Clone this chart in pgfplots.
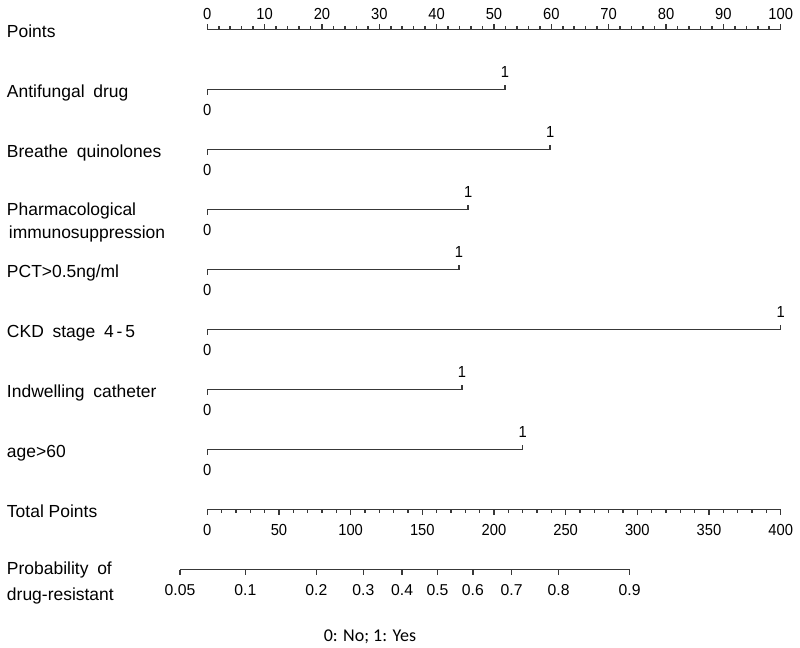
\documentclass[border=0pt]{standalone}
\usepackage{pgfplots}
\pgfplotsset{compat=1.18}
\usepackage{pgfplotstable}
\usepackage{fontspec}
\setmainfont{Liberation Sans}
\newfontfamily\tickfont{Liberation Sans}[FakeStretch=0.92]
\newfontfamily\calib{Carlito}
\definecolor{ln}{HTML}{383838}
\newcommand\lab{\fontsize{13.1pt}{15pt}\selectfont}
\newcommand\tk{\tickfont\fontsize{12pt}{14pt}\selectfont}
\newcommand\tkp{\fontsize{11.8pt}{14pt}\selectfont}
\pgfplotsset{nl/.style={draw=ln, line width=1.15pt, mark=none, solid}}

% points scale ticks (0-100): value, row position
\pgfplotstableread{
p r
0 29.5
2 29.5
4 29.5
6 29.5
8 29.5
10 29.5
12 29.5
14 29.5
16 29.5
18 29.5
20 29.5
22 29.5
24 29.5
26 29.5
28 29.5
30 29.5
32 29.5
34 29.5
36 29.5
38 29.5
40 29.5
42 29.5
44 29.5
46 29.5
48 29.5
50 29.5
52 29.5
54 29.5
56 29.5
58 29.5
60 29.5
62 29.5
64 29.5
66 29.5
68 29.5
70 29.5
72 29.5
74 29.5
76 29.5
78 29.5
80 29.5
82 29.5
84 29.5
86 29.5
88 29.5
90 29.5
92 29.5
94 29.5
96 29.5
98 29.5
100 29.5
}\pointsminor
\pgfplotstableread{
p r
0 29.5
10 29.5
20 29.5
30 29.5
40 29.5
50 29.5
60 29.5
70 29.5
80 29.5
90 29.5
100 29.5
}\pointsmajor
% total points ticks (0-400)
\pgfplotstableread{
t r
0 509.5
10 509.5
20 509.5
30 509.5
40 509.5
50 509.5
60 509.5
70 509.5
80 509.5
90 509.5
100 509.5
110 509.5
120 509.5
130 509.5
140 509.5
150 509.5
160 509.5
170 509.5
180 509.5
190 509.5
200 509.5
210 509.5
220 509.5
230 509.5
240 509.5
250 509.5
260 509.5
270 509.5
280 509.5
290 509.5
300 509.5
310 509.5
320 509.5
330 509.5
340 509.5
350 509.5
360 509.5
370 509.5
380 509.5
390 509.5
400 509.5
}\totalminor
\pgfplotstableread{
t r
0 509.5
50 509.5
100 509.5
150 509.5
200 509.5
250 509.5
300 509.5
350 509.5
400 509.5
}\totalmajor
% probability ticks: probability, position on total points scale
\pgfplotstableread{
p tp r
0.05 -19.0 569.5
0.1 26.6 569.5
0.2 76.1 569.5
0.3 108.9 569.5
0.4 135.9 569.5
0.5 160.6 569.5
0.6 185.3 569.5
0.7 212.3 569.5
0.8 245.1 569.5
0.9 294.6 569.5
}\probtab

\begin{document}
\begin{tikzpicture}[every node/.append style={inner sep=0pt, outer sep=0pt}]
\begin{axis}[
  scale only axis, width=600pt, height=485.25pt,
  xmin=-36.15, xmax=103.37, ymin=0, ymax=647, y dir=reverse,
  hide axis, clip=false]

% ---- Points scale
\addplot[nl] coordinates {(0,29.5) (100,29.5)};
\addplot[nl, quiver={u=0,v=-3.5}] table[x=p, y=r] {\pointsminor};
\addplot[nl, quiver={u=0,v=-6}] table[x=p, y=r] {\pointsmajor};
\node[anchor=base west, font=\lab] at (axis cs:-34.93,37) {Points};
\node[anchor=base, font=\tk] at (axis cs:0,19.3) {0};
\node[anchor=base, font=\tk] at (axis cs:10,19.3) {10};
\node[anchor=base, font=\tk] at (axis cs:20,19.3) {20};
\node[anchor=base, font=\tk] at (axis cs:30,19.3) {30};
\node[anchor=base, font=\tk] at (axis cs:40,19.3) {40};
\node[anchor=base, font=\tk] at (axis cs:50,19.3) {50};
\node[anchor=base, font=\tk] at (axis cs:60,19.3) {60};
\node[anchor=base, font=\tk] at (axis cs:70,19.3) {70};
\node[anchor=base, font=\tk] at (axis cs:80,19.3) {80};
\node[anchor=base, font=\tk] at (axis cs:90,19.3) {90};
\node[anchor=base, font=\tk] at (axis cs:100,19.3) {100};

% ---- Antifungal drug (1 = 51.9 points)
\addplot[nl] coordinates {(0,94.5) (0,89.5) (51.9,89.5) (51.9,84.5)};
\node[anchor=base west, font=\lab] at (axis cs:-34.93,97) {Antifungal\hspace{0.5em}drug};
\node[anchor=base, font=\tk] at (axis cs:51.9,77.5) {1};
\node[anchor=base, font=\tk] at (axis cs:0,115.5) {0};

% ---- Breathe quinolones (1 = 59.8)
\addplot[nl] coordinates {(0,154.5) (0,149.5) (59.8,149.5) (59.8,144.5)};
\node[anchor=base west, font=\lab] at (axis cs:-34.93,157) {Breathe\hspace{0.5em}quinolones};
\node[anchor=base, font=\tk] at (axis cs:59.8,137.5) {1};
\node[anchor=base, font=\tk] at (axis cs:0,175.5) {0};

% ---- Pharmacological immunosuppression (1 = 45.5)
\addplot[nl] coordinates {(0,214.5) (0,209.5) (45.5,209.5) (45.5,204.5)};
\node[anchor=base west, font=\lab] at (axis cs:-34.93,215) {Pharmacological};
\node[anchor=base west, font=\lab] at (axis cs:-34.6,238) {immunosuppression};
\node[anchor=base, font=\tk] at (axis cs:45.5,197.5) {1};
\node[anchor=base, font=\tk] at (axis cs:0,235.5) {0};

% ---- PCT>0.5ng/ml (1 = 43.9)
\addplot[nl] coordinates {(0,274.5) (0,269.5) (43.9,269.5) (43.9,264.5)};
\node[anchor=base west, font=\lab] at (axis cs:-34.93,277) {PCT>0.5ng/ml};
\node[anchor=base, font=\tk] at (axis cs:43.9,257.5) {1};
\node[anchor=base, font=\tk] at (axis cs:0,295.5) {0};

% ---- CKD stage 4-5 (1 = 100)
\addplot[nl] coordinates {(0,334.5) (0,329.5) (100,329.5) (100,324.5)};
\node[anchor=base west, font=\lab] at (axis cs:-34.93,337) {CKD\hspace{0.5em}stage\hspace{0.5em}4\,-\,5};
\node[anchor=base, font=\tk] at (axis cs:100,317.5) {1};
\node[anchor=base, font=\tk] at (axis cs:0,355.5) {0};

% ---- Indwelling catheter (1 = 44.4)
\addplot[nl] coordinates {(0,394.5) (0,389.5) (44.4,389.5) (44.4,384.5)};
\node[anchor=base west, font=\lab] at (axis cs:-34.93,397) {Indwelling\hspace{0.5em}catheter};
\node[anchor=base, font=\tk] at (axis cs:44.4,377.5) {1};
\node[anchor=base, font=\tk] at (axis cs:0,415.5) {0};

% ---- age>60 (1 = 55.0)
\addplot[nl] coordinates {(0,454.5) (0,449.5) (55.0,449.5) (55.0,444.5)};
\node[anchor=base west, font=\lab] at (axis cs:-34.93,457) {age>60};
\node[anchor=base, font=\tk] at (axis cs:55.0,437.5) {1};
\node[anchor=base, font=\tk] at (axis cs:0,475.5) {0};

% ---- Total Points scale
\addplot[nl] coordinates {(0,509.5) (100,509.5)};
\addplot[nl, quiver={u=0,v=3}] table[x expr=\thisrow{t}/4, y=r] {\totalminor};
\addplot[nl, quiver={u=0,v=5}] table[x expr=\thisrow{t}/4, y=r] {\totalmajor};
\node[anchor=base west, font=\lab] at (axis cs:-34.93,517) {Total Points};
\node[anchor=base, font=\tk] at (axis cs:0,535.5) {0};
\node[anchor=base, font=\tk] at (axis cs:12.5,535.5) {50};
\node[anchor=base, font=\tk] at (axis cs:25,535.5) {100};
\node[anchor=base, font=\tk] at (axis cs:37.5,535.5) {150};
\node[anchor=base, font=\tk] at (axis cs:50,535.5) {200};
\node[anchor=base, font=\tk] at (axis cs:62.5,535.5) {250};
\node[anchor=base, font=\tk] at (axis cs:75,535.5) {300};
\node[anchor=base, font=\tk] at (axis cs:87.5,535.5) {350};
\node[anchor=base, font=\tk] at (axis cs:100,535.5) {400};

% ---- Probability scale
\addplot[nl] coordinates {(-4.75,569.5) (73.65,569.5)};
\addplot[nl, quiver={u=0,v=5}] table[x expr=\thisrow{tp}/4, y=r] {\probtab};
\node[anchor=base west, font=\lab] at (axis cs:-34.93,574) {Probability\hspace{0.5em}of};
\node[anchor=base west, font=\lab] at (axis cs:-34.93,600) {drug-resistant};
\node[anchor=base, font=\tkp] at (axis cs:-4.75,595) {0.05};
\node[anchor=base, font=\tkp] at (axis cs:6.65,595) {0.1};
\node[anchor=base, font=\tkp] at (axis cs:19.025,595) {0.2};
\node[anchor=base, font=\tkp] at (axis cs:27.225,595) {0.3};
\node[anchor=base, font=\tkp] at (axis cs:33.975,595) {0.4};
\node[anchor=base, font=\tkp] at (axis cs:40.15,595) {0.5};
\node[anchor=base, font=\tkp] at (axis cs:46.325,595) {0.6};
\node[anchor=base, font=\tkp] at (axis cs:53.075,595) {0.7};
\node[anchor=base, font=\tkp] at (axis cs:61.275,595) {0.8};
\node[anchor=base, font=\tkp] at (axis cs:73.65,595) {0.9};

% ---- footnote
\node[anchor=base, font={\calib\fontsize{13.5pt}{15pt}\selectfont}] at (axis cs:28.37,641.5) {0: No; 1: Yes};
\end{axis}
\pgfresetboundingbox
\path (current axis.south west) rectangle (current axis.north east);
\end{tikzpicture}
\end{document}
